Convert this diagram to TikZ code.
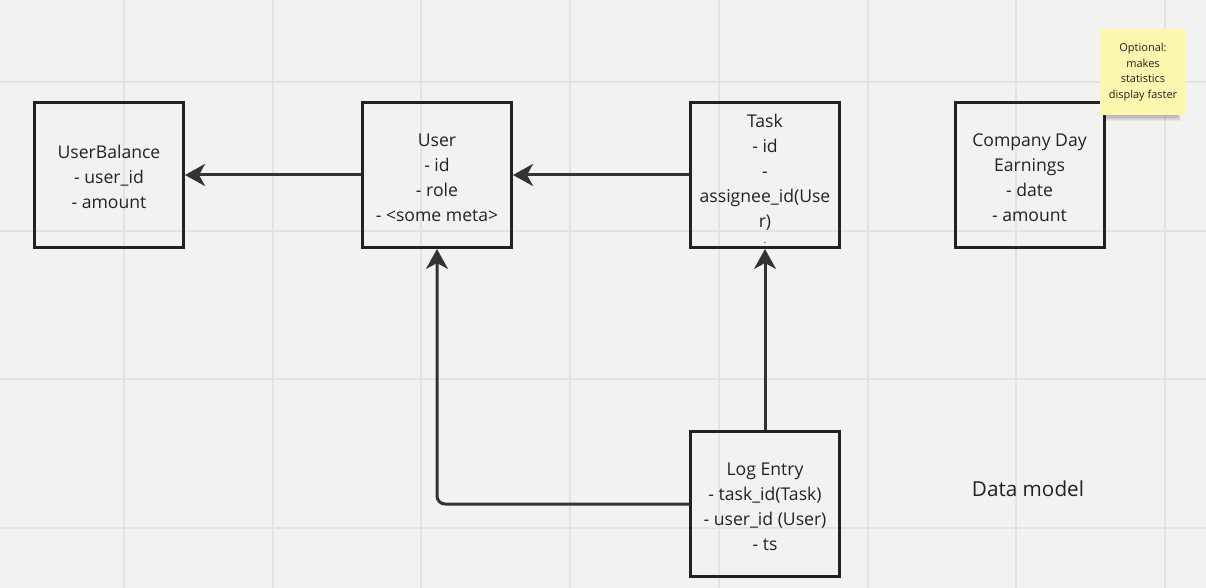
\documentclass[tikz,border=0pt]{standalone}
\usepackage{fontspec}
\setmainfont{Open Sans}
\usetikzlibrary{arrows.meta}
\definecolor{bg}{HTML}{F2F2F2}
\definecolor{gridc}{HTML}{E3E3E3}
\definecolor{ink}{HTML}{222222}
\definecolor{arrowc}{HTML}{333333}
\definecolor{stickyc}{HTML}{FDF6AE}
\newcommand\myTopStrut[1]{\rule{0pt}{#1}}
\begin{document}
\begin{tikzpicture}[x=1pt,y=-1pt,
  box/.style={draw=ink, line width=3pt, minimum width=149pt, minimum height=145pt,
    align=center, font=\fontsize{17.6}{25}\selectfont, inner sep=0pt, text=ink},
  conn/.style={draw=arrowc, line width=3pt, -{Stealth[length=20pt,width=22pt,inset=6pt]}},
  stickynote/.style={fill=stickyc, minimum width=86pt, minimum height=86pt, inner sep=0pt,
    align=center, font=\fontsize{11}{15.5}\selectfont, text=ink},
  gridline/.style={draw=gridc, line width=2pt}
  ]
\fill[bg] (0,0) rectangle (1206,588);
\useasboundingbox (0,0) rectangle (1206,588);
\foreach \i in {0,...,7} {\draw[gridline] ({124+148.7*\i},0) -- ({124+148.7*\i},588);}
\foreach \j in {0,...,3} {\draw[gridline] (0,{82+148.7*\j}) -- (1206,{82+148.7*\j});}

\node[box] (UB) at (109,175) {\myTopStrut{18pt}UserBalance\\- user\_id\\- amount};
\node[box] (U) at (437,175) {\myTopStrut{19pt}User\\- id\\- role\\- <some meta>};
\node[box] (T) at (765,175) {\myTopStrut{21pt}Task\\- id\\-\\assignee\_id(Use\\r)\\[-9pt]{\fontsize{10}{10}\selectfont .}};
\node[box] (C) at (1029.5,175) {\myTopStrut{19pt}Company Day\\Earnings\\- date\\- amount};
\node[box] (L) at (765,504) {\myTopStrut{19pt}Log Entry\\- task\_id(Task)\\- user\_id (User)\\- ts};

% sticky note shadow
\foreach \k/\o in {0/0.05,1/0.05,2/0.06,3/0.08} {
  \fill[black,opacity=\o] ({1104+\k},{110+\k}) rectangle ({1181-\k},{121-\k});
}
\node[stickynote] (N) at (1143,72) {Optional:\\makes\\statistics\\display faster};

\node[font=\fontsize{20.7}{24}\selectfont, text=ink] (DM) at (1028,489) {Data model};

\draw[conn] (U.west) -- (UB.east);
\draw[conn] (T.west) -- (U.east);
\draw[conn] (L.north) -- (T.south);
\draw[conn, rounded corners=8pt] (L.west) -| (U.south);
\end{tikzpicture}
\end{document}
